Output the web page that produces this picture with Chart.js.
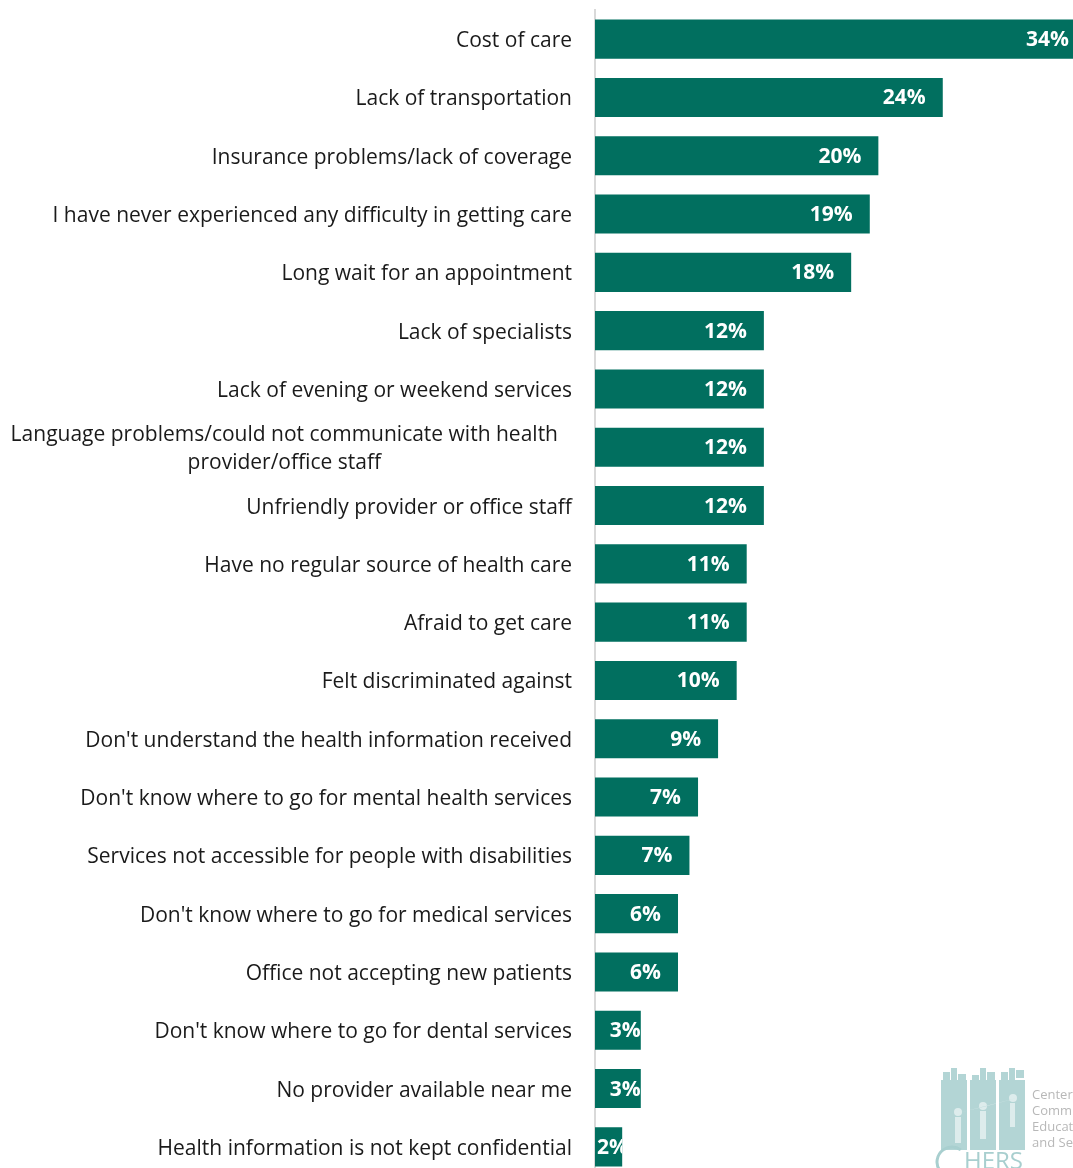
<!DOCTYPE html>
<html>
<head>
<meta charset="utf-8">
<script src="https://cdn.jsdelivr.net/npm/chart.js@4.4.1/dist/chart.umd.min.js"></script>
<style>
  html, body { margin: 0; padding: 0; background: #fff; overflow: hidden; }
  #wrap { width: 1073px; height: 1177px; }
</style>
</head>
<body>
<div id="wrap"><canvas id="barriers"></canvas></div>
<script>
// kategori (dari atas ke bawah)
const categories = [
  ["Cost of care"],
  ["Lack of transportation"],
  ["Insurance problems/lack of coverage"],
  ["I have never experienced any difficulty in getting care"],
  ["Long wait for an appointment"],
  ["Lack of specialists"],
  ["Lack of evening or weekend services"],
  ["Language problems/could not communicate with health", "provider/office staff"],
  ["Unfriendly provider or office staff"],
  ["Have no regular source of health care"],
  ["Afraid to get care"],
  ["Felt discriminated against"],
  ["Don't understand the health information received"],
  ["Don't know where to go for mental health services"],
  ["Services not accessible for people with disabilities"],
  ["Don't know where to go for medical services"],
  ["Office not accepting new patients"],
  ["Don't know where to go for dental services"],
  ["No provider available near me"],
  ["Health information is not kept confidential"],
];

// persentase
const percentValues = [34.3, 24.3, 19.8, 19.2, 17.9, 11.8, 11.8, 11.8, 11.8, 10.6,
  10.6, 9.9, 8.6, 7.2, 6.6, 5.8, 5.8, 3.2, 3.2, 1.9];

const logoLines = ["Center for", "Community Health", "Education, Research", "and Service"];

const barColor = "#016f5f";
const labelFont = "21px 'Open Sans', Lato, sans-serif";
const valueFont = "bold 21px 'Open Sans', Lato, sans-serif";

// plugin untuk label kategori (baris ganda rata tengah)
const categoryLabels = {
  id: "categoryLabels",
  afterDraw(chart) {
    const ctx = chart.ctx;
    const yScale = chart.scales.y;
    const right = chart.chartArea.left - 23;
    ctx.save();
    ctx.font = labelFont;
    ctx.fillStyle = "#1a1a1a";
    ctx.textBaseline = "middle";
    categories.forEach((lines, i) => {
      const y = yScale.getPixelForTick(i) + 2;
      const maxW = Math.max(...lines.map((l) => ctx.measureText(l).width));
      // label dua baris sedikit bergeser ke kiri seperti aslinya
      const r = lines.length > 1 ? right - 14 : right;
      const cx = r - maxW / 2;
      ctx.textAlign = "center";
      lines.forEach((line, j) => {
        const off = (j - (lines.length - 1) / 2) * 28;
        ctx.fillText(line, cx, y + off);
      });
    });
    ctx.restore();
  },
};

// plugin untuk nilai di ujung batang
const valueLabels = {
  id: "valueLabels",
  afterDatasetsDraw(chart) {
    const ctx = chart.ctx;
    const meta = chart.getDatasetMeta(0);
    ctx.save();
    ctx.font = valueFont;
    ctx.fillStyle = "#ffffff";
    ctx.textAlign = "left";
    ctx.textBaseline = "middle";
    meta.data.forEach((bar, i) => {
      const h = bar.height;
      const txt = Math.round(percentValues[i]) + "%";
      const w = ctx.measureText(txt).width;
      let left = bar.x - 17 - w;
      if (left < bar.base + 4) left = Math.max(bar.base + 2, bar.x - 31);
      ctx.save();
      ctx.beginPath();
      ctx.rect(bar.base, bar.y - h / 2, bar.x - bar.base, h);
      ctx.clip();
      ctx.fillText(txt, left, bar.y + 1);
      ctx.restore();
    });
    ctx.restore();
  },
};

// plugin logo CHERS (pojok kanan bawah)
const chersLogo = {
  id: "chersLogo",
  afterDraw(chart) {
    const ctx = chart.ctx;
    ctx.save();
    ctx.fillStyle = "#b3d5d5";
    // tiga kolom dengan siluet gedung di atas
    [941, 970, 999].forEach((x0, k) => {
      ctx.fillRect(x0, 1080, 26, 88);
      ctx.fillRect(x0 + 2, 1072 + (k % 2) * 3, 7, 10);
      ctx.fillRect(x0 + 10, 1068, 6, 14);
      ctx.fillRect(x0 + 17, 1074 - k * 2, 8, 8);
    });
    ctx.fillStyle = "rgba(255,255,255,0.55)";
    ctx.beginPath();
    ctx.arc(958, 1112, 4, 0, Math.PI * 2);
    ctx.arc(983, 1106, 4, 0, Math.PI * 2);
    ctx.arc(1013, 1098, 4, 0, Math.PI * 2);
    ctx.fill();
    ctx.fillRect(955, 1117, 6, 26);
    ctx.fillRect(980, 1111, 6, 28);
    ctx.fillRect(1010, 1103, 5, 24);
    // tulisan CHERS
    ctx.fillStyle = "#ffffff";
    ctx.fillRect(932, 1150, 96, 18);
    ctx.strokeStyle = "#a8cfcf";
    ctx.lineWidth = 3;
    ctx.beginPath();
    ctx.arc(952, 1162, 15, 0.3 * Math.PI, 1.7 * Math.PI);
    ctx.stroke();
    ctx.fillStyle = "#a8cfcf";
    ctx.font = "24px 'Open Sans', sans-serif";
    ctx.textAlign = "left";
    ctx.textBaseline = "alphabetic";
    ctx.fillText("HERS", 964, 1169);
    ctx.fillStyle = "#b8b8b8";
    ctx.font = "13px 'Open Sans', sans-serif";
    logoLines.forEach((t, i) => ctx.fillText(t, 1032, 1099 + i * 16));
    ctx.restore();
  },
};

const ctxBar = document.getElementById("barriers").getContext("2d");

const myChart = new Chart(ctxBar, {
  type: "bar",
  data: {
    labels: categories,
    datasets: [
      {
        data: percentValues,
        backgroundColor: barColor,
        borderWidth: 0,
        categoryPercentage: 1,
        barPercentage: 0.67,
      },
    ],
  },
  options: {
    indexAxis: "y",
    responsive: true,
    maintainAspectRatio: false,
    animation: false,
    layout: { padding: { top: 10, bottom: 1, right: 0, left: 0 } },
    scales: {
      x: {
        display: false,
        min: 0,
        max: 33.4,
      },
      y: {
        grid: { display: false, drawTicks: false },
        ticks: { display: false },
        border: { display: true, color: "#d9d9d9", width: 2 },
        afterFit: function (scale) {
          scale.width = 595;
        },
      },
    },
    plugins: {
      legend: { display: false },
      tooltip: { enabled: false },
    },
  },
  plugins: [categoryLabels, valueLabels, chersLogo],
});
</script>
</body>
</html>
